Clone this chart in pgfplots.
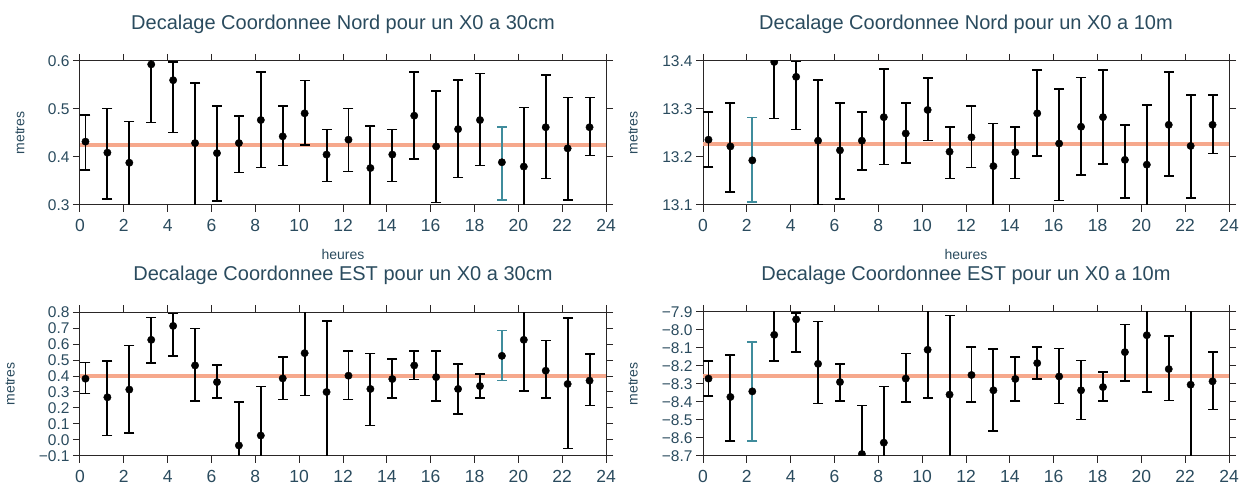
\documentclass[border=0pt]{standalone}
\usepackage{fontspec}
\setmainfont{Liberation Sans}
\usepackage{pgfplots}
\usepackage{pgfplotstable}
\pgfplotsset{compat=1.18}
\definecolor{labc}{HTML}{2A4B5E}
\definecolor{framec}{HTML}{2A2626}
\definecolor{salm}{HTML}{F6A88C}
\definecolor{tealc}{HTML}{3F8C9C}

% x = hour, y = value, t = top of bar, b = bottom of bar
\pgfplotstableread{
x y t b
0.25 0.432 0.488 0.373
1.25 0.409 0.501 0.313
2.25 0.388 0.474 0.28
3.25 0.593 0.62 0.472
4.25 0.560 0.598 0.451
5.25 0.429 0.554 0.28
6.25 0.408 0.506 0.308
7.25 0.429 0.486 0.368
8.25 0.477 0.577 0.378
9.25 0.443 0.506 0.382
10.25 0.491 0.559 0.425
11.25 0.405 0.457 0.349
12.25 0.436 0.501 0.370
13.25 0.377 0.465 0.28
14.25 0.405 0.457 0.349
15.25 0.486 0.577 0.396
16.25 0.422 0.538 0.305
17.25 0.458 0.560 0.357
18.25 0.477 0.574 0.382
20.25 0.380 0.503 0.28
21.25 0.462 0.571 0.355
22.25 0.418 0.524 0.310
23.25 0.462 0.524 0.403
}\TLa
\pgfplotstableread{
x y t b
19.25 0.389 0.462 0.310
}\TLb
\pgfplotstableread{
x y t b
0.25 13.236 13.294 13.179
1.25 13.222 13.312 13.127
3.25 13.398 13.42 13.280
4.25 13.367 13.399 13.257
5.25 13.234 13.360 13.101
6.25 13.214 13.312 13.113
7.25 13.234 13.294 13.173
8.25 13.283 13.383 13.184
9.25 13.249 13.312 13.187
10.25 13.298 13.365 13.234
11.25 13.211 13.262 13.155
12.25 13.241 13.306 13.178
13.25 13.181 13.270 13.08
14.25 13.210 13.262 13.155
15.25 13.291 13.381 13.202
16.25 13.228 13.342 13.109
17.25 13.263 13.366 13.163
18.25 13.283 13.381 13.185
19.25 13.194 13.267 13.115
20.25 13.184 13.308 13.08
21.25 13.267 13.377 13.160
22.25 13.223 13.329 13.115
23.25 13.267 13.329 13.207
}\TRa
\pgfplotstableread{
x y t b
2.25 13.193 13.282 13.106
}\TRb
\pgfplotstableread{
x y t b
0.25 0.383 0.485 0.290
1.25 0.267 0.495 0.028
2.25 0.315 0.590 0.045
3.25 0.626 0.765 0.480
4.25 0.713 0.79 0.526
5.25 0.466 0.696 0.244
6.25 0.362 0.470 0.261
7.25 -0.034 0.236 -0.2
8.25 0.028 0.335 -0.2
9.25 0.385 0.518 0.252
10.25 0.543 0.9 0.277
11.25 0.300 0.744 -0.2
12.25 0.402 0.557 0.252
13.25 0.319 0.541 0.090
14.25 0.381 0.505 0.261
15.25 0.466 0.557 0.379
16.25 0.393 0.557 0.244
17.25 0.319 0.476 0.161
18.25 0.337 0.414 0.261
20.25 0.626 0.9 0.308
21.25 0.433 0.622 0.261
22.25 0.350 0.761 -0.053
23.25 0.371 0.537 0.215
}\BLa
\pgfplotstableread{
x y t b
19.25 0.526 0.684 0.371
}\BLb
\pgfplotstableread{
x y t b
0.25 -8.270 -8.171 -8.368
1.25 -8.372 -8.138 -8.617
3.25 -8.027 -7.85 -8.171
4.25 -7.941 -7.905 -8.123
5.25 -8.188 -7.953 -8.409
6.25 -8.289 -8.188 -8.394
7.25 -8.689 -8.420 -8.8
8.25 -8.626 -8.315 -8.8
9.25 -8.270 -8.130 -8.400
10.25 -8.110 -7.85 -8.377
11.25 -8.359 -7.920 -8.8
12.25 -8.250 -8.095 -8.400
13.25 -8.335 -8.106 -8.562
14.25 -8.272 -8.151 -8.394
15.25 -8.184 -8.095 -8.272
16.25 -8.258 -8.103 -8.409
17.25 -8.335 -8.169 -8.497
18.25 -8.317 -8.235 -8.396
19.25 -8.123 -7.970 -8.282
20.25 -8.029 -7.85 -8.344
21.25 -8.217 -8.033 -8.392
22.25 -8.304 -7.85 -8.8
23.25 -8.285 -8.121 -8.442
}\BRa
\pgfplotstableread{
x y t b
2.25 -8.341 -8.068 -8.617
}\BRb

\pgfplotsset{
  panel/.style={
    scale only axis, width=526pt, height=144pt, anchor=south west,
    xmin=0, xmax=24, xtick={0,2,...,24},
    tick align=outside, xtick pos=both, ytick pos=both,
    xticklabel pos=lower, yticklabel pos=left,
    major tick length=7pt,
    tick style={line width=1pt, color=framec},
    axis line style={line width=1pt, color=framec},
    xticklabel style={font=\fontsize{17.5}{17.5}\selectfont, color=labc, yshift=-4pt},
    yticklabel style={font=\fontsize{15.5}{15.5}\selectfont, color=labc},
    /pgf/number format/assume math mode=true,
    title style={font=\fontsize{20}{20}\selectfont, color=labc, at={(0.5,1)}, anchor=center, yshift=31pt},
    ylabel style={font=\fontsize{14}{14}\selectfont, color=labc, anchor=center},
    xlabel style={font=\fontsize{14}{14}\selectfont, color=labc, at={(axis description cs:0.5,0)}, anchor=center, yshift=-50pt},
    ylabel={metres},
    clip marker paths=true,
  },
  errp/.style={only marks, mark=*, mark size=3.7pt, mark options={fill=black, draw=black},
    error bars/.cd, y dir=both, y explicit, error mark=none,
    error bar style={line width=1.9pt, color=#1}},
  capp/.style={only marks, mark=-, mark size=5pt, mark options={line width=1.6pt, color=#1}, forget plot},
  meanl/.style={color=salm, line width=4pt, forget plot},
}
\newcommand{\errtab}[2]{%
\addplot[capp=#1] table[x=x, y=t] {#2};
\addplot[capp=#1] table[x=x, y=b] {#2};
\addplot[errp=#1] table[x=x, y=y, y error plus expr=\thisrow{t}-\thisrow{y}, y error minus expr=\thisrow{y}-\thisrow{b}] {#2};
}

\begin{document}
\begin{tikzpicture}
\useasboundingbox (0,0) rectangle (1242pt,486pt);

\begin{axis}[panel, at={(80pt,281pt)},
  ymin=0.3, ymax=0.6, ytick={0.3,0.4,0.5,0.6}, yticklabels={0.3,0.4,0.5,0.6},
  title={Decalage Coordonnee Nord pour un X0 a 30cm}, xlabel={heures},
  ylabel style={at={(axis description cs:-0.114,0.5)}}]
\addplot[meanl] coordinates {(0,0.425) (24,0.425)};
\errtab{black}{\TLa}
\errtab{tealc}{\TLb}
\end{axis}

\begin{axis}[panel, at={(703pt,281pt)},
  ymin=13.1, ymax=13.4, ytick={13.1,13.2,13.3,13.4}, yticklabels={13.1,13.2,13.3,13.4},
  title={Decalage Coordonnee Nord pour un X0 a 10m}, xlabel={heures},
  ylabel style={at={(axis description cs:-0.133,0.5)}}]
\addplot[meanl] coordinates {(0,13.228) (24,13.228)};
\errtab{black}{\TRa}
\errtab{tealc}{\TRb}
\end{axis}

\begin{axis}[panel, at={(80pt,30pt)},
  ymin=-0.1, ymax=0.8, ytick={-0.1,0,0.1,0.2,0.3,0.4,0.5,0.6,0.7,0.8},
  yticklabels={−0.1,0.0,0.1,0.2,0.3,0.4,0.5,0.6,0.7,0.8},
  title={Decalage Coordonnee EST pour un X0 a 30cm},
  ylabel style={at={(axis description cs:-0.133,0.5)}}]
\addplot[meanl] coordinates {(0,0.40) (24,0.40)};
\errtab{black}{\BLa}
\errtab{tealc}{\BLb}
\end{axis}

\begin{axis}[panel, at={(703pt,30pt)},
  ymin=-8.7, ymax=-7.9, ytick={-8.7,-8.6,-8.5,-8.4,-8.3,-8.2,-8.1,-8.0,-7.9},
  yticklabels={−8.7,−8.6,−8.5,−8.4,−8.3,−8.2,−8.1,−8.0,−7.9},
  title={Decalage Coordonnee EST pour un X0 a 10m},
  ylabel style={at={(axis description cs:-0.133,0.5)}}]
\addplot[meanl] coordinates {(0,-8.258) (24,-8.258)};
\errtab{black}{\BRa}
\errtab{tealc}{\BRb}
\end{axis}
\end{tikzpicture}
\end{document}
